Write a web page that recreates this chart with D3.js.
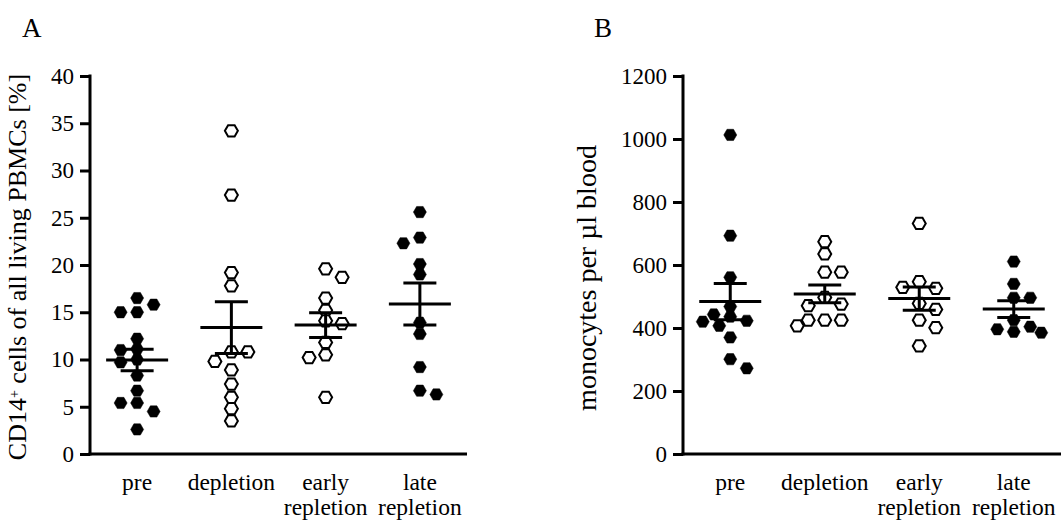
<!DOCTYPE html>
<html>
<head>
<meta charset="utf-8">
<script src="https://cdn.jsdelivr.net/npm/d3@7"></script>
<style>
  body { margin: 0; background: #fff; }
  text { font-family: "Liberation Serif", "Times New Roman", serif; fill: #000; }
</style>
</head>
<body>
<div id="chart"></div>
<script>
// groups on the x axis (same for both panels)
var groups = ["pre", "depletion", "early repletion", "late repletion"];
var groupLines = [["pre"], ["depletion"], ["early", "repletion"], ["late", "repletion"]];
var filled = [true, false, false, true];

// panel A: CD14+ cells of all living PBMCs [%]
var preA = [16.5, 15.8, 15.0, 15.0, 12.2, 11.1, 11.0, 10.0, 9.7, 8.3, 6.7, 5.4, 5.4, 4.5, 2.6];
var depletionA = [34.2, 27.4, 19.2, 17.8, 10.8, 10.8, 9.8, 8.9, 7.4, 6.0, 4.8, 3.5];
var earlyA = [19.6, 18.7, 16.5, 15.2, 14.1, 13.8, 11.8, 10.5, 10.2, 6.0];
var lateA = [25.6, 22.9, 22.3, 20.1, 19.0, 13.9, 12.7, 9.2, 6.7, 6.3];
var ticksA = [0, 5, 10, 15, 20, 25, 30, 35, 40];

// panel B: monocytes per µl blood
var preB = [1013, 693, 561, 468, 443, 436, 423, 420, 407, 370, 301, 272];
var depletionB = [674, 635, 577, 577, 497, 476, 471, 425, 425, 425, 407];
var earlyB = [732, 547, 529, 526, 478, 459, 425, 401, 343];
var lateB = [611, 540, 496, 496, 425, 404, 396, 388, 385];
var ticksB = [0, 200, 400, 600, 800, 1000, 1200];

var width = 1062, height = 528;

var svg = d3.select("#chart").append("svg")
    .attr("width", width)
    .attr("height", height);

// hexagon marker, points to the left and right
var hexR = 6.5;
var hexagon = d3.line()(d3.range(6).map(function(i) {
    var a = i * Math.PI / 3;
    return [hexR * Math.cos(a), hexR * Math.sin(a)];
})) + "Z";

// beeswarm: each dot goes to the spot (within +-27.5px) that overlaps the least
function swarm(vals, y, cx) {
    var placed = [];
    vals.forEach(function(v, n) {
        var py = y(v);
        var sign = n % 2 ? 1 : -1;
        var cands = [0];
        for (var k = 1; k <= 5; k++) cands.push(sign * k * 5.5, -sign * k * 5.5);
        var best = null, bestCost = Infinity;
        cands.forEach(function(off) {
            var cost = Math.abs(off) * 0.05;
            placed.forEach(function(p) {
                var ox = Math.max(0, 12 - Math.abs(p.x - (cx + off)));
                var oy = Math.max(0, 10 - Math.abs(p.y - py));
                cost += ox * oy;
            });
            if (cost < bestCost) { bestCost = cost; best = off; }
        });
        placed.push({x: cx + best, y: py, v: v});
    });
    return placed;
}

function panel(opt) {
    var g = svg.append("g");

    var x = d3.scaleBand().domain(groups).range(opt.xRange);
    var y = d3.scaleLinear().domain(opt.yDomain).range([454, 76]);

    // y axis
    var yAxis = g.append("g")
        .attr("transform", "translate(" + opt.xRange[0] + ",0)")
        .call(d3.axisLeft(y).tickValues(opt.ticks).tickFormat(d3.format("d"))
            .tickSize(10).tickSizeOuter(0).tickPadding(6));
    yAxis.select(".domain").attr("stroke-width", 3).attr("d", "M0," + (y.range()[1] - 1.5) + "V" + (y.range()[0] + 1.5));
    yAxis.selectAll(".tick line").attr("stroke-width", 3);
    yAxis.selectAll(".tick text")
        .style("font-family", "'Liberation Serif', serif")
        .style("font-size", "23px");

    // x axis line, no ticks
    g.append("line")
        .attr("x1", opt.xRange[0] - 1.5).attr("x2", opt.xRange[1])
        .attr("y1", y(0)).attr("y2", y(0))
        .attr("stroke", "#000").attr("stroke-width", 3);

    // x labels
    groupLines.forEach(function(lines, i) {
        var t = g.append("text")
            .attr("text-anchor", "middle")
            .style("font-size", "23.5px");
        lines.forEach(function(l, j) {
            t.append("tspan")
                .attr("x", x(groups[i]) + x.bandwidth() / 2)
                .attr("y", 490 + j * 25)
                .text(l);
        });
    });

    // y title
    var title = g.append("text")
        .attr("text-anchor", "middle")
        .attr("transform", "translate(" + opt.titleX + "," + opt.titleY + ") rotate(-90)")
        .style("font-size", opt.titleSize);
    opt.title.forEach(function(part) {
        var s = title.append("tspan").text(part.t);
        if (part.sup) s.attr("baseline-shift", "super").style("font-size", "14px");
    });

    // panel letter
    g.append("text")
        .attr("x", opt.letterX).attr("y", 37)
        .style("font-size", "27px")
        .text(opt.letter);

    // dots
    opt.series.forEach(function(vals, i) {
        var cx = x(groups[i]) + x.bandwidth() / 2;
        var pts = swarm(vals, y, cx);
        g.append("g").selectAll("path")
            .data(pts)
          .enter().append("path")
            .attr("d", hexagon)
            .attr("transform", function(d) { return "translate(" + d.x + "," + d.y + ")"; })
            .attr("fill", filled[i] ? "#000" : "#fff")
            .attr("stroke", "#000")
            .attr("stroke-width", filled[i] ? 0.5 : 2);
    });

    // mean and SEM on top
    opt.series.forEach(function(vals, i) {
        var cx = x(groups[i]) + x.bandwidth() / 2;
        var m = d3.mean(vals);
        var sem = d3.deviation(vals) / Math.sqrt(vals.length);
        var lines = [
            [cx - 31, y(m), cx + 31, y(m)],
            [cx - 16.5, y(m + sem), cx + 16.5, y(m + sem)],
            [cx - 16.5, y(m - sem), cx + 16.5, y(m - sem)],
            [cx, y(m + sem), cx, y(m - sem)]
        ];
        g.append("g").selectAll("line")
            .data(lines)
          .enter().append("line")
            .attr("x1", function(d) { return d[0]; })
            .attr("y1", function(d) { return d[1]; })
            .attr("x2", function(d) { return d[2]; })
            .attr("y2", function(d) { return d[3]; })
            .attr("stroke", "#000")
            .attr("stroke-width", 3);
    });
}

panel({
    xRange: [90, 467],
    yDomain: [0, 40],
    ticks: ticksA,
    series: [preA, depletionA, earlyA, lateA],
    title: [{t: "CD14"}, {t: "+", sup: true}, {t: " cells of all living PBMCs [%]"}],
    titleX: 26, titleY: 267, titleSize: "26px",
    letter: "A", letterX: 22
});

panel({
    xRange: [683, 1061],
    yDomain: [0, 1200],
    ticks: ticksB,
    series: [preB, depletionB, earlyB, lateB],
    title: [{t: "monocytes per µl blood"}],
    titleX: 596, titleY: 278, titleSize: "28px",
    letter: "B", letterX: 594
});
</script>
</body>
</html>
